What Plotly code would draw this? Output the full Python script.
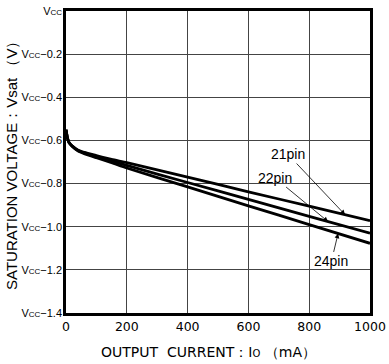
import numpy as np
import plotly.graph_objects as go

current = [0, 5, 10, 20, 40, 60, 100, 150, 200, 400, 600, 800, 1000]
v21 = [-0.55, -0.59, -0.61, -0.625, -0.645, -0.655, -0.670, -0.688, -0.703, -0.770, -0.838, -0.905, -0.972]
v22 = [-0.55, -0.59, -0.61, -0.626, -0.647, -0.658, -0.675, -0.695, -0.716, -0.795, -0.873, -0.952, -1.030]
v24 = [-0.55, -0.59, -0.61, -0.627, -0.649, -0.661, -0.680, -0.703, -0.728, -0.815, -0.903, -0.990, -1.077]
series = {"21pin": v21, "22pin": v22, "24pin": v24}

y_ticks = [0, -0.2, -0.4, -0.6, -0.8, -1.0, -1.2, -1.4]
vcc = "V<span style='font-size:8px'>CC</span>"
y_ticktext = [vcc] + [vcc + "−%.1f" % abs(v) for v in y_ticks[1:]]
x_ticks = [0, 200, 400, 600, 800, 1000]

x_title = "OUTPUT  CURRENT：I<span style='font-size:10px'>O</span> （mA）"
y_title = "SATURATION VOLTAGE：Vsat （V）"

# label text position (x, y) and arrow target current for each series
label_pos = {"21pin": (729, -0.663, 918), "22pin": (686, -0.772, 862), "24pin": (873, -1.161, 895)}

fig = go.Figure()
for name, vals in series.items():
    fig.add_trace(go.Scatter(x=current, y=vals, mode="lines", name=name,
                             line=dict(color="black", width=2.8, shape="spline", smoothing=0.6),
                             showlegend=False))

for name, (tx, ty, hx) in label_pos.items():
    hy = float(np.interp(hx, current, series[name]))
    fig.add_annotation(x=hx, y=hy, ax=tx, ay=ty, axref="x", ayref="y", xref="x", yref="y",
                       text=name, showarrow=True, arrowhead=2, arrowsize=1.2, arrowwidth=0.8,
                       arrowcolor="black", font=dict(family="Liberation Sans", size=14, color="black"))

# axis titles
fig.add_annotation(x=0.47, y=0, xref="paper", yref="paper", yshift=-39, yanchor="middle",
                   xanchor="center", showarrow=False, text=x_title,
                   font=dict(family="DejaVu Sans", size=14, color="black"))
fig.add_annotation(x=0, y=0.5, xref="paper", yref="paper", xshift=-55, xanchor="center",
                   yanchor="middle", textangle=-90, showarrow=False, text=y_title,
                   font=dict(family="Liberation Sans Narrow, Liberation Sans", size=15, color="black"))

fig.update_layout(
    width=389, height=364,
    margin=dict(l=66, r=19, t=11, b=51),
    paper_bgcolor="white", plot_bgcolor="white",
    font=dict(family="Liberation Sans", color="black"),
)
fig.update_xaxes(range=[0, 1000], tickvals=x_ticks, showgrid=True, gridcolor="#444", gridwidth=1,
                 showline=True, mirror=True, linecolor="black", linewidth=2.5, zeroline=False,
                 ticks="", tickfont=dict(family="DejaVu Sans", size=12.5), automargin=False)
fig.update_yaxes(range=[-1.4, 0], tickvals=y_ticks, ticktext=y_ticktext, showgrid=True, gridcolor="#444",
                 gridwidth=1, showline=True, mirror=True, linecolor="black", linewidth=2.5, zeroline=False,
                 ticks="", tickfont=dict(family="Liberation Sans Narrow, Liberation Sans", size=11),
                 ticklabelstandoff=-1, automargin=False)

fig.write_html("out.html", config={"displayModeBar": False},
               post_script="document.body.style.margin='0';document.body.style.overflow='hidden';")
